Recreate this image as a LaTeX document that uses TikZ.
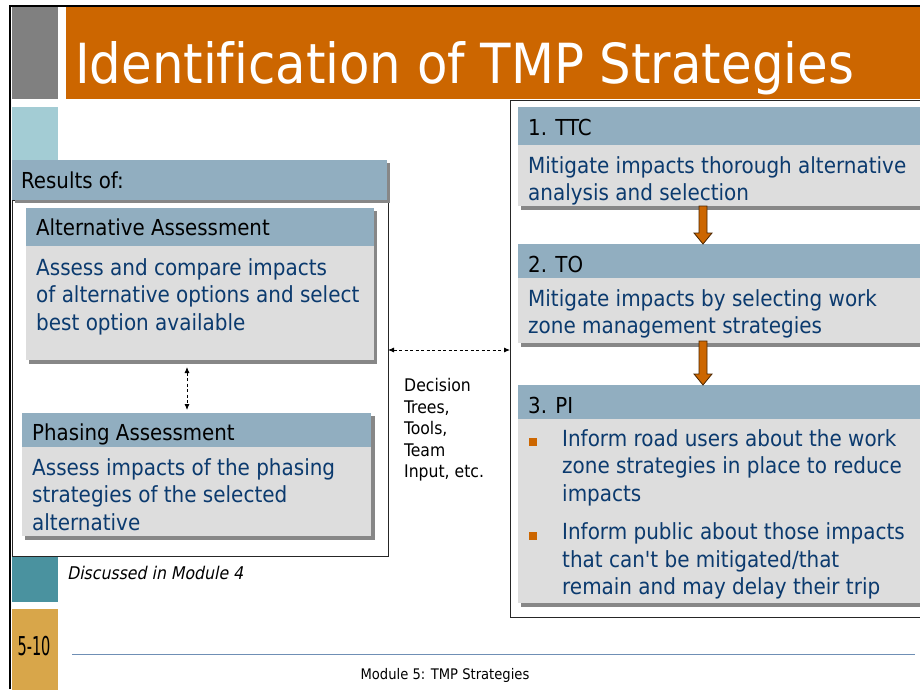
\documentclass[tikz,border=0pt]{standalone}
\usepackage{fontspec}
\setmainfont{DejaVu Sans Condensed}[Ligatures={TeXOff,NoCommon}]
\newfontfamily\oblfont{DejaVu Sans Condensed}[FakeSlant=0.2]
\usetikzlibrary{arrows.meta,calc}
\definecolor{titleorange}{HTML}{CC6600}
\definecolor{sidegray}{HTML}{808080}
\definecolor{lightteal}{HTML}{A3CCD4}
\definecolor{darkteal}{HTML}{4A929F}
\definecolor{gold}{HTML}{D8A64A}
\definecolor{hdrblue}{HTML}{91AEC0}
\definecolor{bodygray}{HTML}{DDDDDD}
\definecolor{shadowgray}{HTML}{878787}
\definecolor{navy}{HTML}{0B3A6E}
\definecolor{footblue}{HTML}{6F8FB5}
\definecolor{arrowedge}{HTML}{4A2500}
\tikzset{
  rect/.style={rectangle, inner sep=0pt, outer sep=0pt, anchor=north west},
  hdr/.style={rect, fill=hdrblue},
  bdy/.style={rect, fill=bodygray},
  shd/.style={rect, fill=shadowgray},
  frm/.style={rect, draw=black!85, line width=1pt, fill=white},
  strip/.style={rect},
  htxt/.style={anchor=base west, inner sep=0pt, font=\fontsize{22}{27.5}\selectfont, text=black},
  btxt/.style={anchor=north west, inner sep=0pt, align=left, font=\fontsize{22.2}{27.5}\selectfont, text=navy},
  bullet/.style={rectangle, inner sep=0pt, minimum size=8pt, fill=titleorange},
  dasharr/.style={draw=black, line width=0.8pt, dash pattern=on 3pt off 2.5pt, {Latex[length=6pt,width=5pt]}-{Latex[length=6pt,width=5pt]}, shorten <=3pt, shorten >=3pt},
  blockarr/.style={fill=titleorange, draw=arrowedge, line width=0.8pt, line join=miter},
}
\begin{document}
\begin{tikzpicture}[x=1pt,y=-1pt]
\useasboundingbox (0,0) rectangle (920,689);
\fill[white] (0,0) rectangle (920,689);

% page frame and side strips
\draw[black, line width=2.5pt] (10,689) -- (10,6) -- (920,6);
\node[strip, fill=sidegray, minimum width=46pt, minimum height=92pt] (gray) at (12,7) {};
\node[strip, fill=titleorange, minimum width=860pt, minimum height=92pt] (bar) at (66,7) {};
\node[anchor=base west, inner sep=0pt, text=white, font=\fontsize{55.3}{60}\selectfont] (title) at (75,83) {Identification of TMP Strategies};
\node[strip, fill=lightteal, minimum width=46pt, minimum height=100pt] (lt) at (12,107) {};
\node[strip, fill=darkteal, minimum width=46pt, minimum height=45pt] (dt) at (12,557) {};
\node[strip, fill=gold, minimum width=46pt, minimum height=82pt] (gd) at (12,609) {};
\node[inner sep=0pt, font=\fontsize{26}{26}\selectfont, xscale=0.62, text=black] (pgnum) at (34,646.5) {5-10};

% left group
\node[frm, minimum width=376pt, minimum height=356pt] (frameL) at (12,200) {};
\node[shd, minimum width=375pt, minimum height=40pt] (resS) at (15,163) {};
\node[hdr, minimum width=375pt, minimum height=40pt] (resH) at (12,160) {};
\node[htxt] (resT) at (21,188) {Results of:};

\node[shd, minimum width=348pt, minimum height=153pt] (altS) at (29,211) {};
\node[hdr, minimum width=348pt, minimum height=38pt] (altH) at (26,208) {};
\node[bdy, minimum width=348pt, minimum height=114pt] (altB) at (26,246) {};
\node[htxt] (altT) at (36,235) {Alternative Assessment};
\node[btxt] (altX) at (36,258) {Assess and compare impacts\\of alternative options and select\\best option available};

\node[shd, minimum width=350pt, minimum height=124pt] (phS) at (25,416) {};
\node[hdr, minimum width=349pt, minimum height=34pt] (phH) at (22,413) {};
\node[bdy, minimum width=349pt, minimum height=89pt] (phB) at (22,447) {};
\node[htxt] (phT) at (32,440) {Phasing Assessment};
\node[btxt] (phX) at (32,458) {Assess impacts of the phasing\\strategies of the selected\\alternative};

\node[anchor=base west, inner sep=0pt, font=\oblfont\fontsize{17.5}{20}\selectfont] (disc) at (67,579.5) {Discussed in Module 4};

% right group
\node[frm, minimum width=420pt, minimum height=517pt] (frameR) at (510,100) {};

\node[shd, minimum width=410pt, minimum height=100pt] (ttcS) at (521,110) {};
\node[hdr, minimum width=410pt, minimum height=38pt] (ttcH) at (518,107) {};
\node[bdy, minimum width=410pt, minimum height=61pt] (ttcB) at (518,145) {};
\node[htxt] (ttcT) at (528,135) {1. TTC};
\node[btxt] (ttcX) at (528,156) {Mitigate impacts thorough alternative\\analysis and selection};

\node[shd, minimum width=410pt, minimum height=100pt] (toS) at (521,247) {};
\node[hdr, minimum width=410pt, minimum height=34pt] (toH) at (518,244) {};
\node[bdy, minimum width=410pt, minimum height=65pt] (toB) at (518,278) {};
\node[htxt] (toT) at (528,272) {2. TO};
\node[btxt] (toX) at (528,289) {Mitigate impacts by selecting work\\zone management strategies};

\node[shd, minimum width=410pt, minimum height=219pt] (piS) at (521,388) {};
\node[hdr, minimum width=410pt, minimum height=34pt] (piH) at (518,385) {};
\node[bdy, minimum width=410pt, minimum height=184pt] (piB) at (518,419) {};
\node[htxt] (piT) at (528,413) {3. PI};
\node[bullet] (b1) at (533,442) {};
\node[btxt] (piX1) at (562,429) {Inform road users about the work\\zone strategies in place to reduce\\impacts};
\node[bullet] (b2) at (533,535.5) {};
\node[btxt] (piX2) at (562,522.5) {Inform public about those impacts\\that can't be mitigated/that\\remain and may delay their trip};

% middle text
\node[anchor=north west, inner sep=0pt, align=left, font=\fontsize{17.4}{21.5}\selectfont] (dec) at (404,378.5) {Decision\\Trees,\\Tools,\\Team\\Input, etc.};

% connectors
\coordinate (vx) at (187,0);
\coordinate (hy) at (0,350);
\coordinate (ax) at (703,0);
\draw[dasharr] (altS.south -| vx) -- (phH.north -| vx);
\draw[dasharr, shorten <=0pt, shorten >=0pt] (frameL.east |- hy) -- (frameR.west |- hy);
\draw[blockarr] let \p1=(ttcB.south -| ax), \p2=(toH.north -| ax) in
  (\x1-4pt,\y1) -- (\x1+4pt,\y1) -- (\x1+4pt,\y2+11pt) -- (\x1+9pt,\y2+11pt) -- (\x1,\y2)
  -- (\x1-9pt,\y2+11pt) -- (\x1-4pt,\y2+11pt) -- cycle;
\draw[blockarr] let \p1=(toB.south -| ax), \p2=(piH.north -| ax) in
  (\x1-4pt,\y1+2pt) -- (\x1+4pt,\y1+2pt) -- (\x1+4pt,\y2+11pt) -- (\x1+9pt,\y2+11pt) -- (\x1,\y2)
  -- (\x1-9pt,\y2+11pt) -- (\x1-4pt,\y2+11pt) -- cycle;

% footer
\draw[footblue, line width=1.5pt] (72,654.5) -- (915,654.5);
\node[anchor=base, inner sep=0pt, font=\fontsize{14.6}{14.6}\selectfont] (foot) at (445,679) {Module 5: TMP Strategies};
\end{tikzpicture}
\end{document}
